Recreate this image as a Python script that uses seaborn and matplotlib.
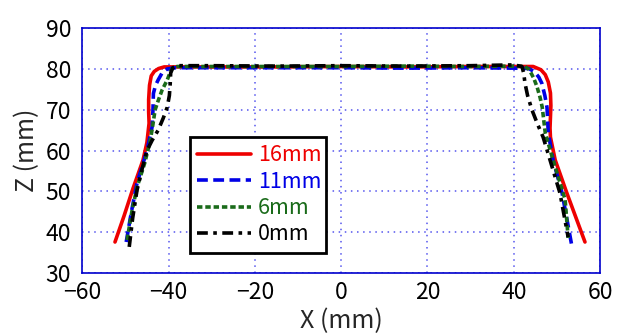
import numpy as np
import pandas as pd
import matplotlib
matplotlib.use("Agg")
import matplotlib.pyplot as plt
import seaborn as sns

# profile data (X, Z in mm)
x_16 = [-52.4, -50.3, -48.2, -45.9, -45.0, -44.5, -44.6, -44.6, -44.4, -44.0, -43.3, -42.3, -41.0, -30, -15, 0, 15, 30, 40,
        44.5, 46.3, 47.3, 48.0, 48.5, 48.6, 48.5, 48.4, 48.5, 49.6, 52.3, 56.5]
z_16 = [37.6, 44.0, 50.8, 57.7, 62.0, 66.7, 69.5, 72.5, 76.0, 78.3, 79.4, 80.1, 80.5, 80.5, 80.5, 80.6, 80.5, 80.6, 80.6,
        80.6, 79.8, 78.6, 76.8, 74.1, 71.0, 68.2, 65.5, 63.3, 57.7, 49.6, 37.6]

x_11 = [-49.8, -48.6, -47.3, -45.0, -43.8, -43.6, -43.5, -43.0, -42.4, -41.5, -40.3, -38.5, -30, -15, 0, 15, 30, 40,
        43.5, 44.8, 45.8, 46.5, 47.2, 47.7, 48.0, 49.1, 51.2, 53.5]
z_11 = [37.6, 45.0, 52.0, 60.0, 65.8, 70.0, 74.0, 76.0, 77.3, 79.0, 80.0, 80.3, 80.3, 80.3, 80.3, 80.2, 80.3, 80.2,
        80.1, 79.3, 78.0, 76.5, 73.5, 70.6, 64.3, 57.7, 49.6, 36.4]

x_6 = [-49.6, -48.5, -47.3, -45.5, -44.2, -43.6, -43.1, -42.3, -41.5, -40.3, -39.6, -39.1, -38.0, -30, -15, 0, 15, 30, 40,
       42.6, 43.6, 44.6, 45.4, 46.1, 46.6, 47.3, 49.1, 51.9, 52.6]
z_6 = [38.1, 45.0, 51.0, 57.0, 62.6, 66.5, 70.0, 72.5, 74.8, 77.3, 79.2, 80.2, 80.6, 80.6, 80.6, 80.6, 80.7, 80.6, 80.7,
       80.6, 79.8, 77.8, 75.6, 73.0, 70.6, 64.3, 57.7, 48.0, 38.6]

x_0 = [-49.1, -48.3, -47.3, -46.0, -45.0, -43.8, -42.4, -41.2, -40.3, -39.8, -39.6, -39.5, -39.0, -38.0, -30, -15, 0, 15, 30, 40,
       41.9, 42.3, 42.6, 43.2, 44.2, 45.5, 46.8, 48.4, 50.7, 52.6]
z_0 = [36.4, 43.5, 50.3, 56.0, 60.0, 62.5, 65.0, 68.0, 70.6, 73.5, 76.5, 79.0, 80.3, 80.8, 80.8, 80.7, 80.8, 80.7, 80.8, 81.0,
       80.6, 79.0, 76.5, 73.5, 70.0, 66.5, 63.3, 57.7, 49.6, 38.8]

labels = ["16mm", "11mm", "6mm", "0mm"]
colors = ["#ee0000", "#0000e6", "#1a6b1a", "#000000"]
styles = ["-", (0, (3, 1.5)), (0, (1.5, 0.8)), (0, (3, 1.5, 1, 1.5))]

series = [(x_16, z_16), (x_11, z_11), (x_6, z_6), (x_0, z_0)]
df = pd.concat([
    pd.DataFrame({"X": xs, "Z": zs, "h": lab})
    for (xs, zs), lab in zip(series, labels)
])

sns.set_style("white")
plt.rcParams['font.family'] = ['Noto Sans CJK JP', 'DejaVu Sans']

fig = plt.figure(figsize=(6.18, 3.35), dpi=100)
ax = fig.add_axes([0.133, 0.185, 0.838, 0.731])

for lab, col, ls in zip(labels, colors, styles):
    sub = df[df["h"] == lab]
    sns.lineplot(data=sub, x="X", y="Z", sort=False, estimator=None,
                 color=col, linestyle=ls, linewidth=2.6, label=lab, ax=ax)

ax.set_xlim(-60, 60)
ax.set_ylim(30, 90)
ax.set_xticks(np.arange(-60, 61, 20))
ax.set_yticks(np.arange(30, 91, 10))
ax.grid(True, color="#5555ee", linestyle=(0, (1, 3)), linewidth=1.1)
for sp in ax.spines.values():
    sp.set_color("#0000cc")
    sp.set_linewidth(1.2)
ax.tick_params(axis="both", direction="in", color="#0000cc", length=4,
               labelsize=16.5, labelcolor="black", pad=8)
ax.tick_params(axis="x", pad=6)
ax.set_xlabel("X (mm)", fontsize=18, labelpad=3)
ax.set_ylabel("Z (mm)", fontsize=18, labelpad=4)

leg = ax.legend(loc="lower left", bbox_to_anchor=(0.208, 0.082, 0.263, 0.461),
                mode="expand", fontsize=15.5, frameon=True, fancybox=False,
                framealpha=1, handlelength=2.5, borderpad=0.35, labelspacing=0.2,
                handletextpad=0.3, borderaxespad=0)
leg.get_frame().set_edgecolor("black")
leg.get_frame().set_linewidth(2)
for txt, col in zip(leg.get_texts(), colors):
    txt.set_color(col)

fig.savefig("out.png", dpi=100)
